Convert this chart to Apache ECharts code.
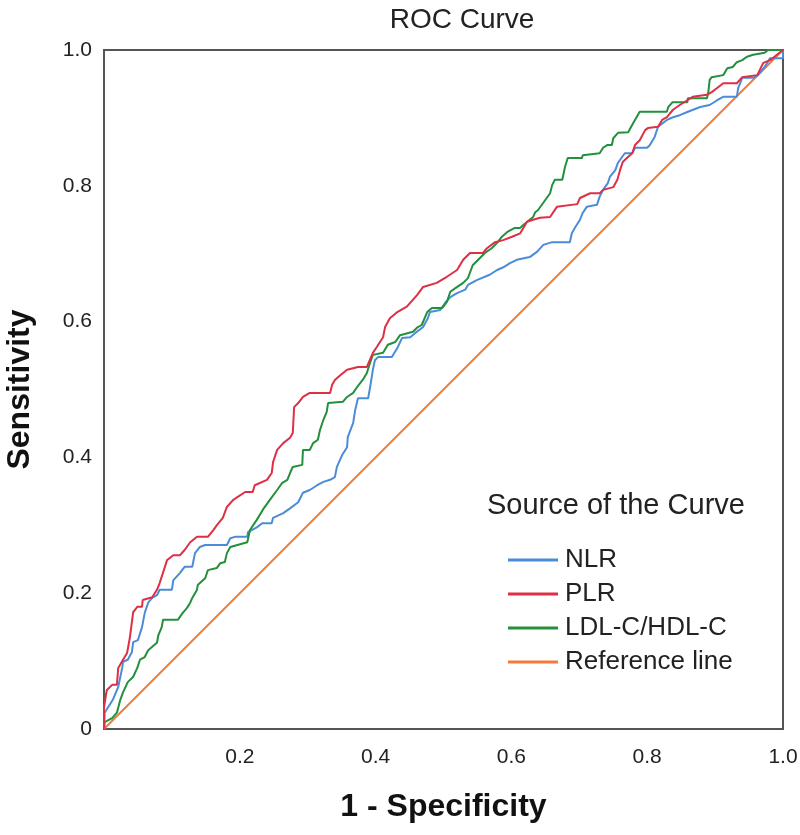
<!DOCTYPE html>
<html>
<head>
<meta charset="utf-8">
<script src="https://cdn.jsdelivr.net/npm/echarts@6/dist/echarts.min.js"></script>
<style>
html,body{margin:0;padding:0;background:#fff;}
#chart{width:800px;height:835px;}
</style>
</head>
<body>
<div id="chart"></div>
<script>
var seriesNames = ['NLR', 'PLR', 'LDL-C/HDL-C', 'Reference line'];
var xTicks = [0, 0.2, 0.4, 0.6, 0.8, 1.0];
var yTicks = [0, 0.2, 0.4, 0.6, 0.8, 1.0];

var nlr = [
[0,0],[0.001,0.024],[0.006,0.032],[0.013,0.043],[0.021,0.062],[0.027,0.091],[0.028,0.099],[0.035,0.102],
[0.041,0.113],[0.043,0.128],[0.050,0.131],[0.056,0.150],[0.060,0.171],[0.065,0.186],[0.071,0.193],[0.078,0.197],
[0.082,0.205],[0.100,0.205],[0.102,0.219],[0.112,0.230],[0.119,0.239],[0.130,0.239],[0.134,0.259],[0.141,0.268],
[0.149,0.271],[0.181,0.271],[0.186,0.281],[0.193,0.283],[0.211,0.283],[0.212,0.290],[0.225,0.297],[0.233,0.303],
[0.247,0.303],[0.249,0.311],[0.264,0.318],[0.274,0.325],[0.286,0.334],[0.293,0.348],[0.303,0.352],[0.314,0.359],
[0.323,0.364],[0.333,0.367],[0.340,0.371],[0.343,0.386],[0.351,0.404],[0.358,0.415],[0.359,0.430],[0.367,0.451],
[0.370,0.470],[0.374,0.487],[0.389,0.487],[0.392,0.504],[0.396,0.529],[0.399,0.543],[0.404,0.548],[0.424,0.548],
[0.432,0.561],[0.439,0.576],[0.451,0.577],[0.458,0.583],[0.470,0.592],[0.477,0.605],[0.480,0.614],[0.495,0.617],
[0.502,0.627],[0.510,0.636],[0.520,0.642],[0.532,0.647],[0.536,0.654],[0.549,0.661],[0.568,0.669],[0.579,0.676],
[0.588,0.680],[0.598,0.686],[0.608,0.691],[0.627,0.695],[0.638,0.703],[0.647,0.713],[0.660,0.717],[0.686,0.717],
[0.689,0.730],[0.694,0.739],[0.701,0.750],[0.705,0.760],[0.711,0.769],[0.726,0.772],[0.730,0.784],[0.735,0.794],
[0.742,0.804],[0.745,0.813],[0.753,0.823],[0.757,0.834],[0.767,0.848],[0.778,0.848],[0.782,0.856],[0.800,0.856],
[0.804,0.860],[0.811,0.872],[0.816,0.887],[0.829,0.897],[0.838,0.901],[0.848,0.904],[0.860,0.909],[0.878,0.916],
[0.892,0.919],[0.903,0.926],[0.912,0.931],[0.932,0.931],[0.934,0.944],[0.940,0.959],[0.956,0.959],[0.963,0.963],
[0.973,0.975],[0.981,0.988],[0.996,0.988],[1,0.988],[1,1]
];

var plr = [
[0,0],[0,0.032],[0.004,0.057],[0.012,0.065],[0.019,0.065],[0.021,0.090],[0.028,0.102],[0.034,0.112],
[0.038,0.134],[0.043,0.172],[0.049,0.180],[0.056,0.180],[0.057,0.190],[0.071,0.194],[0.078,0.205],[0.082,0.215],
[0.093,0.249],[0.102,0.256],[0.112,0.256],[0.119,0.264],[0.127,0.275],[0.137,0.283],[0.153,0.283],[0.161,0.293],
[0.166,0.300],[0.175,0.311],[0.181,0.327],[0.190,0.337],[0.197,0.342],[0.208,0.349],[0.219,0.349],[0.222,0.359],
[0.240,0.367],[0.247,0.377],[0.249,0.393],[0.255,0.411],[0.264,0.421],[0.274,0.429],[0.278,0.436],[0.280,0.474],
[0.286,0.480],[0.293,0.489],[0.303,0.495],[0.333,0.495],[0.336,0.507],[0.340,0.514],[0.348,0.521],[0.358,0.529],
[0.374,0.533],[0.387,0.533],[0.396,0.554],[0.402,0.563],[0.411,0.577],[0.414,0.592],[0.421,0.605],[0.432,0.614],
[0.446,0.622],[0.461,0.639],[0.470,0.651],[0.490,0.657],[0.505,0.666],[0.520,0.676],[0.529,0.691],[0.539,0.701],
[0.558,0.701],[0.564,0.708],[0.576,0.717],[0.588,0.720],[0.601,0.725],[0.613,0.730],[0.623,0.747],[0.632,0.750],
[0.642,0.753],[0.657,0.754],[0.667,0.769],[0.697,0.773],[0.701,0.782],[0.716,0.789],[0.730,0.789],[0.735,0.794],
[0.750,0.798],[0.756,0.809],[0.760,0.823],[0.764,0.835],[0.770,0.841],[0.778,0.848],[0.782,0.860],[0.789,0.867],
[0.797,0.882],[0.801,0.885],[0.816,0.887],[0.822,0.897],[0.829,0.901],[0.838,0.912],[0.848,0.919],[0.859,0.926],
[0.867,0.931],[0.888,0.934],[0.895,0.938],[0.903,0.944],[0.912,0.951],[0.932,0.951],[0.940,0.960],[0.962,0.963],
[0.966,0.971],[0.971,0.981],[0.981,0.985],[0.991,0.993],[1,1]
];

var ldl = [
[0,0],[0.001,0.010],[0.012,0.016],[0.019,0.024],[0.024,0.043],[0.028,0.054],[0.035,0.069],[0.043,0.077],
[0.049,0.090],[0.053,0.102],[0.060,0.106],[0.065,0.116],[0.071,0.121],[0.078,0.127],[0.080,0.138],[0.085,0.150],
[0.087,0.161],[0.109,0.161],[0.116,0.171],[0.122,0.178],[0.127,0.186],[0.130,0.193],[0.137,0.205],[0.138,0.212],
[0.149,0.222],[0.153,0.234],[0.166,0.237],[0.171,0.244],[0.178,0.246],[0.181,0.259],[0.186,0.268],[0.211,0.275],
[0.215,0.293],[0.225,0.308],[0.234,0.323],[0.244,0.337],[0.255,0.352],[0.262,0.362],[0.270,0.367],[0.274,0.377],
[0.278,0.386],[0.292,0.389],[0.293,0.411],[0.303,0.411],[0.308,0.421],[0.315,0.426],[0.318,0.440],[0.323,0.455],
[0.328,0.467],[0.330,0.480],[0.352,0.482],[0.358,0.489],[0.367,0.495],[0.373,0.504],[0.381,0.514],[0.387,0.524],
[0.392,0.540],[0.396,0.551],[0.411,0.554],[0.418,0.566],[0.429,0.570],[0.436,0.580],[0.455,0.585],[0.461,0.591],
[0.468,0.595],[0.476,0.614],[0.483,0.620],[0.498,0.620],[0.505,0.629],[0.510,0.644],[0.517,0.649],[0.529,0.657],
[0.536,0.664],[0.543,0.683],[0.554,0.694],[0.561,0.701],[0.571,0.708],[0.579,0.716],[0.586,0.725],[0.594,0.732],
[0.605,0.738],[0.613,0.738],[0.617,0.742],[0.627,0.750],[0.632,0.754],[0.635,0.761],[0.639,0.764],[0.647,0.775],
[0.657,0.789],[0.660,0.801],[0.664,0.809],[0.675,0.809],[0.679,0.828],[0.683,0.841],[0.704,0.841],[0.705,0.845],
[0.730,0.848],[0.735,0.856],[0.741,0.860],[0.748,0.860],[0.750,0.870],[0.757,0.878],[0.772,0.879],[0.778,0.890],
[0.782,0.897],[0.789,0.909],[0.829,0.909],[0.831,0.916],[0.837,0.923],[0.859,0.923],[0.860,0.929],[0.888,0.929],
[0.890,0.938],[0.892,0.956],[0.895,0.960],[0.912,0.963],[0.918,0.973],[0.926,0.975],[0.932,0.982],[0.940,0.985],
[0.947,0.990],[0.956,0.993],[0.973,0.996],[0.978,1],[1,1]
];

var refLine = [[0,0],[1,1]];

var colors = ['#4A8CD8', '#DE2F45', '#23903C', '#F47A3C'];

var chart = echarts.init(document.getElementById('chart'), null, {renderer: 'canvas'});
var FONT = 'Liberation Sans, Arial, Helvetica, sans-serif';

function mk(name, data, color) {
  return {
    name: name, type: 'line', data: data, symbol: 'none', showSymbol: false,
    lineStyle: {color: color, width: 2}, itemStyle: {color: color},
    animation: false, z: 3
  };
}

chart.setOption({
  animation: false,
  backgroundColor: '#fff',
  title: [
    {text: 'ROC Curve', left: 457, top: 1, textAlign: 'center',
     textStyle: {fontFamily: FONT, fontSize: 28, fontWeight: 'normal', color: '#222'}},
    {text: 'Source of the Curve', left: 482, top: 486,
     textStyle: {fontFamily: FONT, fontSize: 29, fontWeight: 'normal', color: '#222'}}
  ],
  grid: {left: 104, top: 50, width: 679, height: 679, show: true,
         borderColor: '#555', borderWidth: 2, backgroundColor: '#fff',
         containLabel: false, outerBoundsMode: 'none'},
  legend: {
    orient: 'vertical', left: 503, top: 542, itemWidth: 50, itemHeight: 3, itemGap: 8,
    icon: 'rect',
    data: seriesNames,
    textStyle: {fontFamily: FONT, fontSize: 26, color: '#222', padding: [0,0,0,2]}
  },
  xAxis: {
    type: 'value', min: 0, max: 1, interval: 0.2,
    name: '1 - Specificity', nameLocation: 'middle', nameGap: 62,
    nameTextStyle: {fontFamily: FONT, fontSize: 32, fontWeight: 'bold', color: '#111'},
    axisLine: {show: true, lineStyle: {color: '#555', width: 2}},
    axisTick: {show: false}, splitLine: {show: false},
    axisLabel: {fontFamily: FONT, fontSize: 21, color: '#222', margin: 18,
      formatter: function (v) { return xTicks.indexOf(v) > 0 ? v.toFixed(1) : ''; }}
  },
  yAxis: {
    type: 'value', min: 0, max: 1, interval: 0.2,
    name: 'Sensitivity', nameLocation: 'middle', nameGap: 68,
    nameTextStyle: {fontFamily: FONT, fontSize: 32, fontWeight: 'bold', color: '#111'},
    axisLine: {show: true, lineStyle: {color: '#555', width: 2}},
    axisTick: {show: false}, splitLine: {show: false},
    axisLabel: {fontFamily: FONT, fontSize: 21, color: '#222', margin: 12,
      formatter: function (v) { return v === 0 ? '0' : v.toFixed(1); }}
  },
  series: [
    mk(seriesNames[3], refLine, colors[3]),
    mk(seriesNames[0], nlr, colors[0]),
    mk(seriesNames[2], ldl, colors[2]),
    mk(seriesNames[1], plr, colors[1])
  ]
});
</script>
</body>
</html>
